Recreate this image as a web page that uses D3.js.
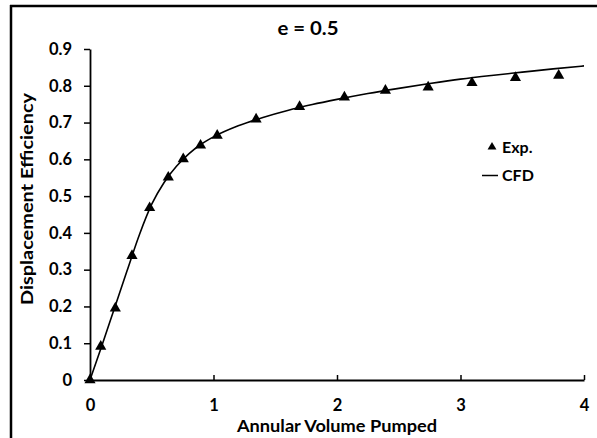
<!DOCTYPE html>
<html>
<head>
<meta charset="utf-8">
<script src="https://cdn.jsdelivr.net/npm/d3@7"></script>
<style>
  html, body { margin: 0; padding: 0; background: #fff; }
  svg { display: block; }
  text { font-family: Lato, "Open Sans", sans-serif; font-weight: bold; fill: #000; }
</style>
</head>
<body>
<svg id="chart" width="597" height="438"></svg>
<script>
// Experimental displacement efficiency vs annular volume pumped
const expX = [0, 0.087, 0.205, 0.34, 0.483, 0.634, 0.755, 0.895, 1.03, 1.345, 1.697, 2.06, 2.392, 2.738, 3.093, 3.445, 3.795];
const expY = [0, 0.091, 0.195, 0.338, 0.468, 0.551, 0.601, 0.638, 0.665, 0.709, 0.743, 0.769, 0.787, 0.796, 0.808, 0.822, 0.828];

// CFD prediction
const cfdX = [0, 0.1, 0.2, 0.3, 0.4, 0.5, 0.6, 0.7, 0.8, 0.9, 1.0, 1.2, 1.4, 1.6, 1.8, 2.0, 2.25, 2.5, 2.75, 3.0, 3.25, 3.5, 3.75, 4.0];
const cfdY = [0, 0.097, 0.197, 0.297, 0.395, 0.478, 0.537, 0.581, 0.615, 0.641, 0.661, 0.691, 0.714, 0.733, 0.749, 0.763, 0.779, 0.793, 0.806, 0.818, 0.828, 0.837, 0.846, 0.854];

const xTicks = [0, 1, 2, 3, 4];
const yTicks = [0, 0.1, 0.2, 0.3, 0.4, 0.5, 0.6, 0.7, 0.8, 0.9];
const xTickLabels = ["0", "1", "2", "3", "4"];
const yTickLabels = ["0", "0.1", "0.2", "0.3", "0.4", "0.5", "0.6", "0.7", "0.8", "0.9"];

const svg = d3.select("#chart");

// outer frame (top and left edges)
svg.append("line").attr("x1", 10).attr("x2", 597).attr("y1", 6).attr("y2", 6)
  .attr("stroke", "#000").attr("stroke-width", 2.5);
svg.append("line").attr("x1", 11).attr("x2", 11).attr("y1", 5).attr("y2", 438)
  .attr("stroke", "#000").attr("stroke-width", 2.5);

const x = d3.scaleLinear().domain([0, 4]).range([90, 584]);
const y = d3.scaleLinear().domain([0, 0.9]).range([380, 49]);

// x axis: ticks point inward
const xAxis = svg.append("g").attr("transform", "translate(0,380)")
  .call(d3.axisBottom(x).tickValues(xTicks).tickFormat((d, i) => xTickLabels[i])
    .tickSizeInner(-5).tickSizeOuter(0).tickPadding(19));
xAxis.select(".domain").attr("stroke-width", 1.8);
xAxis.selectAll(".tick line").attr("stroke-width", 1.5);
xAxis.selectAll(".tick").filter(d => d === 0).select("line").remove();
xAxis.selectAll("text").attr("font-size", 16.5).attr("font-family", "Lato").attr("font-weight", "bold");

// y axis: ticks point outward
const yAxis = svg.append("g").attr("transform", "translate(90,0)")
  .call(d3.axisLeft(y).tickValues(yTicks).tickFormat((d, i) => yTickLabels[i])
    .tickSizeInner(6).tickSizeOuter(0).tickPadding(12));
yAxis.select(".domain").attr("stroke-width", 1.8);
yAxis.selectAll(".tick line").attr("stroke-width", 1.5);
yAxis.selectAll("text").attr("font-size", 16.5).attr("font-family", "Lato").attr("font-weight", "bold");

// CFD curve
const cfd = cfdX.map((v, i) => [v, cfdY[i]]);
svg.append("path").datum(cfd)
  .attr("fill", "none").attr("stroke", "#000").attr("stroke-width", 1.6)
  .attr("d", d3.line().x(d => x(d[0])).y(d => y(d[1])).curve(d3.curveMonotoneX));

// experimental markers
const tri = d3.symbol().type(d3.symbolTriangle).size(54);
svg.append("g").selectAll("path").data(expX.map((v, i) => [v, expY[i]])).join("path")
  .attr("d", tri)
  .attr("transform", d => `translate(${x(d[0])},${y(d[1])})`)
  .attr("fill", "#000");

// title
svg.append("text").attr("x", 308).attr("y", 35).attr("text-anchor", "middle")
  .attr("font-size", 19.5).attr("textLength", 61).attr("lengthAdjust", "spacingAndGlyphs")
  .text("e = 0.5");

// axis titles
svg.append("text").attr("x", 337).attr("y", 432).attr("text-anchor", "middle")
  .attr("font-size", 17.5).attr("textLength", 200).attr("lengthAdjust", "spacingAndGlyphs")
  .text("Annular Volume Pumped");
svg.append("text").attr("transform", "translate(33,199) rotate(-90)").attr("text-anchor", "middle")
  .attr("font-size", 17.5).attr("textLength", 212).attr("lengthAdjust", "spacingAndGlyphs")
  .text("Displacement Efficiency");

// legend
const lg = svg.append("g");
lg.append("path").attr("d", d3.symbol().type(d3.symbolTriangle).size(34))
  .attr("transform", "translate(492,147)").attr("fill", "#000");
lg.append("text").attr("x", 502).attr("y", 152.5).attr("font-size", 16).text("Exp.");
lg.append("line").attr("x1", 482).attr("x2", 498).attr("y1", 175.5).attr("y2", 175.5)
  .attr("stroke", "#000").attr("stroke-width", 1.5);
lg.append("text").attr("x", 502).attr("y", 181).attr("font-size", 16).text("CFD");
</script>
</body>
</html>
